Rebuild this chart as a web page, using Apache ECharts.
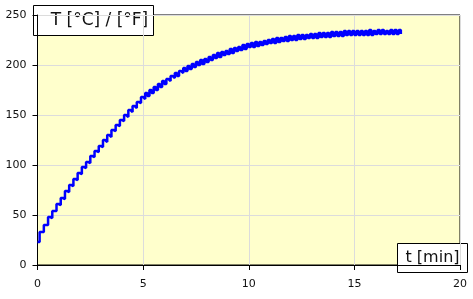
<!DOCTYPE html>
<html>
<head>
<meta charset="utf-8">
<script src="https://cdn.jsdelivr.net/npm/echarts@6/dist/echarts.min.js"></script>
<style>
  html, body { margin: 0; padding: 0; background: #fff; }
  #chart { width: 473px; height: 299px; }
</style>
</head>
<body>
<div id="chart"></div>
<script>
// temperature readings, one every 0.1 min
const sampleStep = 0.1
const temps = [
  23, 33, 33, 40, 40, 48, 47, 54, 54, 61,
  60, 67, 66, 74, 73, 80, 79, 86, 85, 92,
  91, 98, 97, 103, 102, 109, 108, 114, 113, 119,
  118, 125, 123, 130, 128, 135, 134, 140, 139, 145,
  144, 150, 148, 155, 153, 159, 157, 163, 162, 168,
  166, 172, 169, 175, 172, 178, 175, 181, 178, 184,
  181, 186, 184, 189, 187, 192, 189, 194, 192, 197,
  194, 199, 196, 201, 198, 203, 200, 205, 201, 206,
  203, 208, 205, 210, 207, 212, 208, 213, 210, 214,
  211, 216, 212, 217, 214, 218, 215, 220, 216, 221,
  218, 222, 218, 223, 219, 223, 220, 224, 221, 225,
  222, 226, 222, 227, 223, 227, 224, 228, 224, 229,
  225, 229, 225, 230, 226, 230, 226, 230, 227, 231,
  227, 231, 227, 232, 228, 232, 228, 232, 228, 233,
  229, 233, 229, 233, 229, 234, 230, 234, 230, 234,
  230, 234, 230, 234, 230, 234, 230, 235, 230, 234,
  231, 235, 231, 235, 231, 234, 231, 235, 231, 235,
  231, 235, 231
]
const xTicks = [0, 5, 10, 15, 20]
const yTicks = [0, 50, 100, 150, 200, 250]

const yTitle = 'T [°C] / [°F]'
const xTitle = 't [min]'

const chart = echarts.init(document.getElementById('chart'))

const points = temps.map((v, i) => [+(i * sampleStep).toFixed(1), v])

const labelFont = {
  fontFamily: 'DejaVu Sans',
  fontSize: 11,
  color: '#111'
}

const option = {
  animation: false,
  grid: {
    left: 37.5,
    right: 13,
    top: 15,
    bottom: 34,
    show: true,
    backgroundColor: '#FFFFCC',
    borderColor: '#000',
    borderWidth: 1
  },
  xAxis: {
    type: 'value',
    min: xTicks[0],
    max: xTicks[xTicks.length - 1],
    interval: xTicks[1] - xTicks[0],
    axisLine: { lineStyle: { color: '#000', width: 1 } },
    axisTick: { show: true, length: 5, lineStyle: { color: '#000' } },
    axisLabel: { ...labelFont, margin: 14 },
    splitLine: { show: true, lineStyle: { color: '#dcdcdc', width: 1 } }
  },
  yAxis: {
    type: 'value',
    min: yTicks[0],
    max: yTicks[yTicks.length - 1],
    interval: yTicks[1] - yTicks[0],
    axisLine: { show: true, lineStyle: { color: '#000', width: 1 } },
    axisTick: { show: true, length: 5, lineStyle: { color: '#000' } },
    axisLabel: { ...labelFont, margin: 11 },
    splitLine: { show: true, lineStyle: { color: '#dcdcdc', width: 1 } }
  },
  series: [{
    type: 'line',
    step: 'end',
    data: points,
    showSymbol: false,
    lineStyle: { color: '#0000FF', width: 2.5 },
    z: 3
  }],
  graphic: [
    {
      type: 'group',
      left: 33,
      top: 5,
      z: 10,
      children: [
        {
          type: 'rect',
          shape: { x: 0, y: 0, width: 120, height: 30 },
          style: { fill: '#fff', stroke: '#000', lineWidth: 1 }
        },
        {
          type: 'text',
          x: 66,
          y: 15,
          style: {
            text: yTitle,
            fontFamily: 'DejaVu Sans',
            fontSize: 17,
            fill: '#111',
            align: 'center',
            verticalAlign: 'middle'
          }
        }
      ]
    },
    {
      type: 'group',
      left: 397,
      top: 243,
      z: 10,
      children: [
        {
          type: 'rect',
          shape: { x: 0, y: 0, width: 70, height: 29 },
          style: { fill: '#fff', stroke: '#000', lineWidth: 1 }
        },
        {
          type: 'text',
          x: 35,
          y: 14.5,
          style: {
            text: xTitle,
            fontFamily: 'DejaVu Sans',
            fontSize: 16,
            fill: '#111',
            align: 'center',
            verticalAlign: 'middle'
          }
        }
      ]
    }
  ]
}

chart.setOption(option)
</script>
</body>
</html>
